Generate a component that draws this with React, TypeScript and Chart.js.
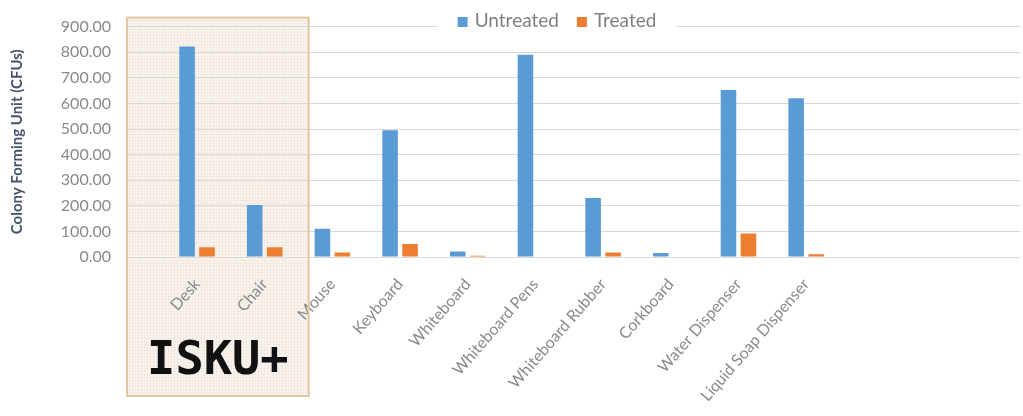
import React, { useEffect, useRef } from 'react';
import { Chart, registerables } from 'chart.js';

Chart.register(...registerables);

const categories = [
  'Desk',
  'Chair',
  'Mouse',
  'Keyboard',
  'Whiteboard',
  'Whiteboard Pens',
  'Whiteboard Rubber',
  'Corkboard',
  'Water Dispenser',
  'Liquid Soap Dispenser',
];
const untreated = [822, 203, 110, 495, 21, 790, 230, 16, 652, 620];
const treated = [38, 38, 18, 51, 5, 2, 18, 0, 92, 11];
const seriesNames = ['Untreated', 'Treated'];
const seriesColors = ['#5b9bd5', '#ed7d31'];
const yMin = 0;
const yMax = 900;
const yStep = 100;
const yTitle = 'Colony Forming Unit (CFUs)';
const highlightedCount = 2;
const highlightLogo = 'ISKU+';

const FONT = 'Lato, "Open Sans", sans-serif';
const TICK_COLOR = '#8a8a8a';

const boxBounds = (chart: any) => {
  const { chartArea, scales } = chart;
  return {
    left: chartArea.left - 1,
    right: scales.x.getPixelForValue(highlightedCount - 0.35),
    top: chartArea.top - 9,
    bottom: chart.height - 20,
  };
};

const highlightPlugin = {
  id: 'highlightBox',
  beforeDraw(chart: any) {
    const { ctx } = chart;
    const { left, right, top, bottom } = boxBounds(chart);
    ctx.save();
    ctx.fillStyle = '#f9f4ee';
    ctx.fillRect(left, top, right - left, bottom - top);
    ctx.strokeStyle = 'rgba(215,200,180,0.16)';
    ctx.lineWidth = 1;
    for (let gx = left + 2; gx < right; gx += 3) {
      ctx.beginPath();
      ctx.moveTo(Math.round(gx) + 0.5, top);
      ctx.lineTo(Math.round(gx) + 0.5, bottom);
      ctx.stroke();
    }
    for (let gy = top + 2; gy < bottom; gy += 3) {
      ctx.beginPath();
      ctx.moveTo(left, Math.round(gy) + 0.5);
      ctx.lineTo(right, Math.round(gy) + 0.5);
      ctx.stroke();
    }
    ctx.restore();
  },
  afterDraw(chart: any) {
    const { ctx } = chart;
    const { left, right, top, bottom } = boxBounds(chart);
    ctx.save();
    ctx.strokeStyle = '#e3c7a3';
    ctx.lineWidth = 2;
    ctx.strokeRect(left, top, right - left, bottom - top);
    ctx.fillStyle = '#111111';
    ctx.font = 'bold 47px "DejaVu Sans Mono", monospace';
    ctx.textAlign = 'center';
    ctx.textBaseline = 'alphabetic';
    ctx.fillText(highlightLogo, (left + right) / 2, bottom - 22);
    ctx.restore();
  },
};

const legendPlugin = {
  id: 'customLegend',
  afterDraw(chart: any) {
    const { ctx } = chart;
    const ds = chart.data.datasets;
    ctx.save();
    ctx.font = `19px ${FONT}`;
    const box = 10;
    const gapBoxText = 7;
    const gapItems = 18;
    const widths = ds.map((d: any) => box + gapBoxText + ctx.measureText(d.label).width);
    const total = widths.reduce((a: number, b: number) => a + b, 0) + gapItems * (ds.length - 1);
    const cx = 557;
    const cy = 21;
    let xPos = cx - total / 2;
    ctx.fillStyle = '#ffffff';
    ctx.fillRect(xPos - 20, cy - 12, total + 40, 20);
    ds.forEach((d: any, i: number) => {
      ctx.fillStyle = d.backgroundColor;
      ctx.fillRect(xPos, cy - box / 2 + 1, box, box);
      ctx.fillStyle = '#7f7f7f';
      ctx.textBaseline = 'middle';
      ctx.textAlign = 'left';
      ctx.fillText(d.label, xPos + box + gapBoxText, cy);
      xPos += widths[i] + gapItems;
    });
    ctx.restore();
  },
};

export default function App() {
  const canvasRef = useRef<HTMLCanvasElement | null>(null);

  useEffect(() => {
    if (!canvasRef.current) return;
    const toPoints = (vals: number[]) => vals.map((v, i) => ({ x: i, y: v }));
    const chart = new Chart(canvasRef.current, {
      type: 'bar',
      data: {
        datasets: [
          {
            label: seriesNames[0],
            data: toPoints(untreated),
            backgroundColor: seriesColors[0],
            categoryPercentage: 0.59,
            barPercentage: 0.78,
          },
          {
            label: seriesNames[1],
            data: toPoints(treated),
            backgroundColor: seriesColors[1],
            categoryPercentage: 0.59,
            barPercentage: 0.78,
          },
        ] as any,
      },
      options: {
        animation: false,
        responsive: false,
        maintainAspectRatio: false,
        layout: { padding: { top: 19, right: 3, left: 0, bottom: 0 } },
        plugins: {
          legend: { display: false },
          tooltip: { enabled: false },
        },
        scales: {
          x: {
            type: 'linear',
            min: -1.02,
            max: 12.16,
            offset: false,
            grid: { display: false, drawTicks: false },
            border: { display: false },
            afterBuildTicks: (axis: any) => {
              axis.ticks = categories.map((_, i) => ({ value: i }));
            },
            afterFit: (axis: any) => {
              axis.height = 159;
            },
            ticks: {
              autoSkip: false,
              minRotation: 49,
              maxRotation: 49,
              padding: 18,
              color: TICK_COLOR,
              font: { family: FONT, size: 16 },
              callback: (v: any) => categories[v as number] ?? '',
            },
          },
          y: {
            min: yMin,
            max: yMax,
            grid: { color: '#d9d9d9', drawTicks: false },
            border: { display: false },
            afterFit: (axis: any) => {
              axis.width = 128;
            },
            ticks: {
              stepSize: yStep,
              padding: 17,
              color: TICK_COLOR,
              font: { family: FONT, size: 16 },
              callback: (v: any) => Number(v).toFixed(2),
            },
            title: {
              display: true,
              text: yTitle,
              color: '#44546a',
              font: { family: FONT, size: 15, weight: 'bold' },
              padding: { top: 8, bottom: 0 },
            },
          },
        },
      } as any,
      plugins: [highlightPlugin, legendPlugin],
    });
    return () => chart.destroy();
  }, []);

  return (
    <div style={{ position: 'fixed', left: 0, top: 0, width: 1023, height: 416, background: '#ffffff' }}>
      <canvas ref={canvasRef} width={1023} height={416} style={{ display: 'block' }} />
    </div>
  );
}
